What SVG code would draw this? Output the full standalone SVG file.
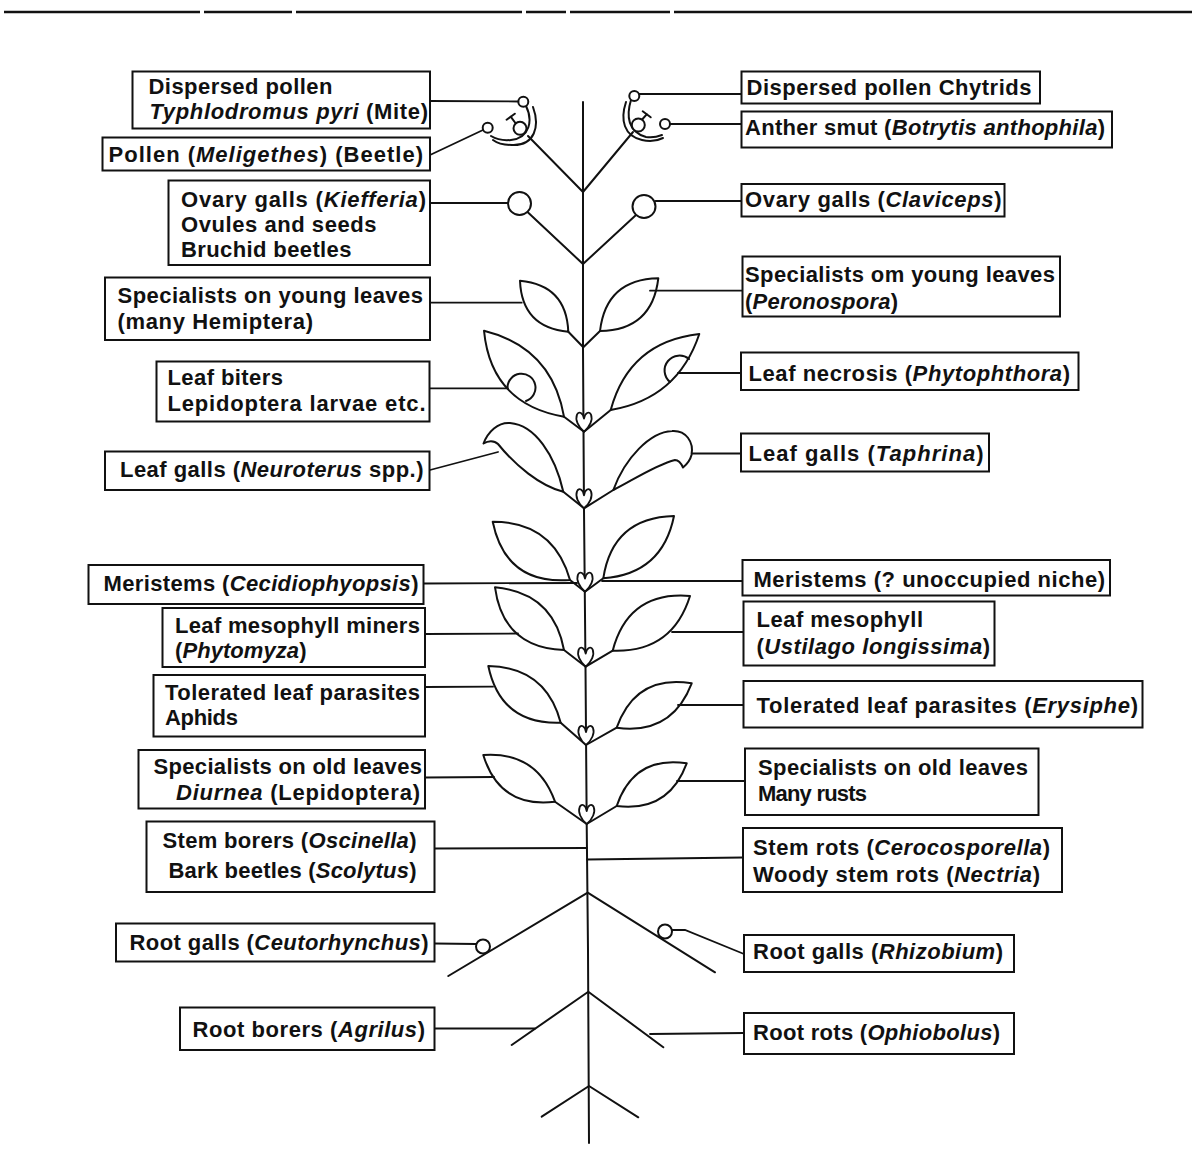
<svg xmlns="http://www.w3.org/2000/svg" width="1194" height="1169" viewBox="0 0 1194 1169">
<style>
  .box{fill:#fff;stroke:#111;stroke-width:2}
  .t{font-family:"Liberation Sans",Arial,Helvetica,sans-serif;font-size:22px;font-weight:bold;fill:#111}
  .i{font-style:italic}
  .ln{fill:none;stroke:#111;stroke-width:1.8;stroke-linecap:round}
  .pl{fill:none;stroke:#111;stroke-width:2;stroke-linejoin:round;stroke-linecap:round}
  .leaf{fill:#fff;stroke:#111;stroke-width:2;stroke-linejoin:round}
  .dot{fill:#fff;stroke:#111;stroke-width:2}
</style>
<defs>
  <!-- small paired bud sitting in each leaf axil -->
  <path id="bud" d="M0,0 C-6,-5 -9,-12 -7,-17 C-5,-21 -1,-19 0,-13 C1,-19 5,-21 7,-17 C9,-12 6,-5 0,0 Z" fill="#fff" stroke="#111" stroke-width="1.8" stroke-linejoin="round"/>
</defs>
<rect width="1194" height="1169" fill="#fff"/>

<!-- page rule -->
<g id="rule" stroke="#111" stroke-width="2.5">
  <line x1="4" y1="12" x2="200" y2="12"/>
  <line x1="204" y1="12" x2="292" y2="12"/>
  <line x1="296" y1="12" x2="522" y2="12"/>
  <line x1="526" y1="12" x2="566" y2="12"/>
  <line x1="570" y1="12" x2="670" y2="12"/>
  <line x1="674" y1="12" x2="1192" y2="12"/>
</g>

<!-- the plant -->
<g id="plant">
  <polyline id="stem" class="pl" stroke-width="1.6" points="583,102 583,350 584,510 585.5,667 586.7,824 588,950 589,1143"/>

  <g id="flowers">
    <polyline class="pl" points="528,136 583,192 633,132"/>
    <!-- left flower -->
    <path class="pl" d="M526,106 C533,120 530,138 511,140 C502,141 496,139 491,136"/>
    <path class="pl" d="M533,107 C540,126 535,146 512,145 C503,145 497,143 493,140"/>
    <line class="pl" x1="516.5" y1="124.5" x2="510.7" y2="116.7"/>
    <line class="pl" x1="506.6" y1="119.7" x2="514.8" y2="113.7"/>
    <circle class="dot" cx="520" cy="128.3" r="6.5"/>
    <circle class="dot" cx="523.3" cy="101.7" r="5"/>
    <circle class="dot" cx="487.7" cy="127.7" r="5"/>
    <!-- right flower -->
    <path class="pl" d="M631,100 C626,116 628,132 646,137 C652,138 657,137 662,135"/>
    <path class="pl" d="M626,102 C620,120 624,136 642,140 C650,142 657,141 663,138"/>
    <line class="pl" x1="641.7" y1="120" x2="646.7" y2="114.3"/>
    <line class="pl" x1="642.7" y1="111.3" x2="650.7" y2="117.3"/>
    <circle class="dot" cx="638.3" cy="125" r="6.5"/>
    <circle class="dot" cx="634.3" cy="96" r="5"/>
    <circle class="dot" cx="665" cy="124" r="5"/>
    <!-- ovaries -->
    <polyline class="pl" points="527.5,212 583,264 636,215"/>
    <circle class="dot" cx="519.5" cy="203.5" r="11.5"/>
    <circle class="dot" cx="644" cy="206.5" r="11.5"/>
  </g>

  <g id="leaves-young">
    <polyline class="pl" points="568.3,331.7 583.3,347.3 600,331"/>
    <path class="leaf" d="M568.3,331.7 Q566.4,285 520,280.7 Q521.9,327.4 568.3,331.7 Z"/>
    <path class="leaf" d="M600,331 Q606.2,279.2 658.3,278.3 Q652.2,330.1 600,331 Z"/>
  </g>

  <g id="leaves-bitten">
    <polyline class="pl" points="564,416.7 584,431.7 610.7,410"/>
    <path class="leaf" d="M564,416.7 Q552,347.5 484,330.7 Q491,404 564,416.7 Z"/>
    <path class="pl" d="M507.5,388 A14,14 0 1 1 526,401"/>
    <path class="leaf" d="M610.7,410 Q629.2,341.9 699.3,334 Q677.8,398.6 610.7,410 Z"/>
    <path class="pl" d="M670,382 A14.5,14.5 0 1 1 689,359"/>
    <use href="#bud" x="584" y="431.7"/>
  </g>

  <g id="leaves-galled">
    <polyline class="pl" points="563.3,491.7 584,508.3 613.3,490"/>
    <path class="leaf" d="M563.3,491.7 C555,455 535,425 510,423 C498,422 488,432 483.5,443.5 C488,440.5 494,440 498,444 C515,465 540,486 563.3,491.7 Z"/>
    <path class="leaf" d="M613.3,490 C625,458 650,432 672,431 C686,430 694,442 691.5,455 C690,461 686,465 683,467.5 C681,463 679,460 675,460 C655,465 630,482 613.3,490 Z"/>
    <use href="#bud" x="584" y="508.3"/>
  </g>

  <g id="leaves-4">
    <polyline class="pl" points="570,580 585,591.7 603.3,578.3"/>
    <path class="leaf" d="M570,580 Q553.5,521.6 492.7,521.7 Q505.7,584.9 570,580 Z"/>
    <path class="leaf" d="M603.3,578.3 Q612.6,517.6 674,516 Q662.3,574 603.3,578.3 Z"/>
    <use href="#bud" x="585" y="591.7"/>
  </g>

  <g id="leaves-5">
    <polyline class="pl" points="564,650 585.7,666.7 612.7,650.7"/>
    <path class="leaf" d="M564,650 Q553.3,592.5 495,587.3 Q503.1,647.7 564,650 Z"/>
    <path class="leaf" d="M612.7,650.7 Q628.4,591 690,596 Q672.2,652.8 612.7,650.7 Z"/>
    <use href="#bud" x="585.7" y="666.7"/>
  </g>

  <g id="leaves-6">
    <polyline class="pl" points="560.7,722.7 586,745 616.7,727.7"/>
    <path class="leaf" d="M560.7,722.7 Q546,667 488.3,666 Q500.7,724.8 560.7,722.7 Z"/>
    <path class="leaf" d="M616.7,727.7 Q635.7,674.1 691.7,683.3 Q671.8,735.2 616.7,727.7 Z"/>
    <use href="#bud" x="586" y="745"/>
  </g>

  <g id="leaves-7">
    <polyline class="pl" points="555,801.7 586.7,824 616.7,806"/>
    <path class="leaf" d="M555,801.7 Q537,751.2 483.3,755 Q499.6,808.4 555,801.7 Z"/>
    <path class="leaf" d="M616.7,806 Q633.8,755.3 686.7,763.3 Q668.6,812.4 616.7,806 Z"/>
    <use href="#bud" x="586.7" y="824"/>
  </g>

  <g id="roots">
    <polyline class="pl" points="448.3,976 587.7,892.7 715,972.3"/>
    <polyline class="pl" points="511.7,1045 588.3,991.7 663.3,1047.3"/>
    <polyline class="pl" points="541.7,1116.7 589,1086 638.3,1117.3"/>
    <circle class="dot" cx="483" cy="946.5" r="7"/>
    <circle class="dot" cx="665" cy="931.5" r="7"/>
  </g>
</g>

<!-- leader lines from the labels to the plant -->
<g id="connectors" class="ln">
  <line x1="430" y1="101" x2="518.3" y2="101.5"/>
  <line x1="430" y1="155" x2="483" y2="130"/>
  <line x1="430" y1="203" x2="508" y2="203"/>
  <line x1="430" y1="302.7" x2="521.7" y2="302.7"/>
  <line x1="430" y1="388.3" x2="508" y2="388.3"/>
  <line x1="430" y1="470" x2="498" y2="452"/>
  <line x1="424" y1="583.5" x2="577" y2="583"/>
  <line x1="425" y1="634" x2="518" y2="633.5"/>
  <line x1="425" y1="687" x2="493" y2="686.7"/>
  <line x1="425" y1="777.5" x2="494" y2="777"/>
  <line x1="434.5" y1="848.5" x2="587" y2="848"/>
  <line x1="434.5" y1="943.5" x2="476" y2="944"/>
  <line x1="434.5" y1="1028.5" x2="535" y2="1028.5"/>

  <line x1="639.3" y1="94" x2="741.5" y2="94"/>
  <line x1="670" y1="124" x2="741.5" y2="124"/>
  <line x1="655.5" y1="201" x2="741.5" y2="201"/>
  <line x1="650" y1="290.7" x2="742.5" y2="290.7"/>
  <line x1="678" y1="373" x2="741" y2="373"/>
  <line x1="692" y1="453.5" x2="741" y2="453.5"/>
  <line x1="602" y1="581" x2="742.5" y2="581"/>
  <line x1="672" y1="632" x2="743.5" y2="632"/>
  <line x1="678" y1="705" x2="743.5" y2="705"/>
  <line x1="677" y1="781" x2="745" y2="781"/>
  <line x1="587" y1="859.5" x2="743" y2="857.5"/>
  <polyline points="672,930 685,930 744,954"/>
  <line x1="650" y1="1034" x2="744" y2="1033"/>
</g>

<!-- labels, left side -->
<g id="n-dispersed-pollen-mite">
  <rect class="box" x="132.5" y="71.5" width="297.5" height="57"/>
  <text class="t" x="148.5" y="93.5" textLength="184" lengthAdjust="spacing">Dispersed pollen</text>
  <text class="t" x="149.5" y="119" textLength="278.5" lengthAdjust="spacing"><tspan class="i">Typhlodromus pyri</tspan> (Mite)</text>
</g>
<g id="n-pollen-beetle">
  <rect class="box" x="102.5" y="137.5" width="327.5" height="33"/>
  <text class="t" x="108.5" y="161.5" textLength="314.5" lengthAdjust="spacing">Pollen (<tspan class="i">Meligethes</tspan>) (Beetle)</text>
</g>
<g id="n-ovary-galls-left">
  <rect class="box" x="168.5" y="180.5" width="261.5" height="84.5"/>
  <text class="t" x="181" y="206.5" textLength="245" lengthAdjust="spacing">Ovary galls (<tspan class="i">Kiefferia</tspan>)</text>
  <text class="t" x="181" y="231.5" textLength="195.5" lengthAdjust="spacing">Ovules and seeds</text>
  <text class="t" x="181" y="256.5" textLength="170.5" lengthAdjust="spacing">Bruchid beetles</text>
</g>
<g id="n-young-leaves-left">
  <rect class="box" x="105" y="277.5" width="325" height="62.5"/>
  <text class="t" x="117.5" y="302.5" textLength="305.5" lengthAdjust="spacing">Specialists on young leaves</text>
  <text class="t" x="117.5" y="328.5" textLength="195.5" lengthAdjust="spacing">(many Hemiptera)</text>
</g>
<g id="n-leaf-biters">
  <rect class="box" x="156.5" y="361.5" width="273" height="60"/>
  <text class="t" x="167.5" y="385" textLength="115.5" lengthAdjust="spacing">Leaf biters</text>
  <text class="t" x="167.5" y="410.5" textLength="258" lengthAdjust="spacing">Lepidoptera larvae etc.</text>
</g>
<g id="n-leaf-galls-left">
  <rect class="box" x="105" y="451.5" width="324.5" height="38.5"/>
  <text class="t" x="120" y="477" textLength="303.5" lengthAdjust="spacing">Leaf galls (<tspan class="i">Neuroterus</tspan> spp.)</text>
</g>
<g id="n-meristems-left">
  <rect class="box" x="88.5" y="565" width="335" height="39"/>
  <text class="t" x="103.5" y="591" textLength="315" lengthAdjust="spacing">Meristems (<tspan class="i">Cecidiophyopsis</tspan>)</text>
</g>
<g id="n-mesophyll-left">
  <rect class="box" x="162.5" y="608" width="262.5" height="59"/>
  <text class="t" x="175" y="632.5" textLength="245" lengthAdjust="spacing">Leaf mesophyll miners</text>
  <text class="t" x="175" y="658" textLength="131.5" lengthAdjust="spacing">(<tspan class="i">Phytomyza</tspan>)</text>
</g>
<g id="n-tolerated-left">
  <rect class="box" x="153.5" y="675" width="271.5" height="61.5"/>
  <text class="t" x="165" y="700" textLength="255" lengthAdjust="spacing">Tolerated leaf parasites</text>
  <text class="t" x="165" y="725" textLength="73" lengthAdjust="spacing">Aphids</text>
</g>
<g id="n-old-leaves-left">
  <rect class="box" x="138.5" y="750" width="286.5" height="58.5"/>
  <text class="t" x="153.5" y="773.5" textLength="268.5" lengthAdjust="spacing">Specialists on old leaves</text>
  <text class="t" x="176" y="800" textLength="244" lengthAdjust="spacing"><tspan class="i">Diurnea</tspan> (Lepidoptera)</text>
</g>
<g id="n-stem-borers">
  <rect class="box" x="146.5" y="821.5" width="288" height="70.5"/>
  <text class="t" x="162.5" y="847.5" textLength="254" lengthAdjust="spacing">Stem borers (<tspan class="i">Oscinella</tspan>)</text>
  <text class="t" x="168.5" y="877.5" textLength="248" lengthAdjust="spacing">Bark beetles (<tspan class="i">Scolytus</tspan>)</text>
</g>
<g id="n-root-galls-left">
  <rect class="box" x="116" y="923.5" width="318.5" height="38"/>
  <text class="t" x="129.5" y="950" textLength="299" lengthAdjust="spacing">Root galls (<tspan class="i">Ceutorhynchus</tspan>)</text>
</g>
<g id="n-root-borers">
  <rect class="box" x="180" y="1007.5" width="254.5" height="42.5"/>
  <text class="t" x="192.5" y="1036.5" textLength="232.5" lengthAdjust="spacing">Root borers (<tspan class="i">Agrilus</tspan>)</text>
</g>

<!-- labels, right side -->
<g id="n-chytrids">
  <rect class="box" x="741.5" y="71.5" width="298.5" height="32"/>
  <text class="t" x="746.5" y="94.5" textLength="285" lengthAdjust="spacing">Dispersed pollen Chytrids</text>
</g>
<g id="n-anther-smut">
  <rect class="box" x="741.5" y="111.5" width="370.5" height="36"/>
  <text class="t" x="745" y="135" textLength="360" lengthAdjust="spacing">Anther smut (<tspan class="i">Botrytis anthophila</tspan>)</text>
</g>
<g id="n-ovary-galls-right">
  <rect class="box" x="741.5" y="184" width="263" height="32.5"/>
  <text class="t" x="745" y="206.5" textLength="256.5" lengthAdjust="spacing">Ovary galls (<tspan class="i">Claviceps</tspan>)</text>
</g>
<g id="n-young-leaves-right">
  <rect class="box" x="742.5" y="256.5" width="317.5" height="60"/>
  <text class="t" x="745" y="281.5" textLength="310" lengthAdjust="spacing">Specialists om young leaves</text>
  <text class="t" x="745" y="308.5" textLength="153" lengthAdjust="spacing">(<tspan class="i">Peronospora</tspan>)</text>
</g>
<g id="n-leaf-necrosis">
  <rect class="box" x="741" y="352.5" width="337.5" height="37.5"/>
  <text class="t" x="748.5" y="380.5" textLength="321.5" lengthAdjust="spacing">Leaf necrosis (<tspan class="i">Phytophthora</tspan>)</text>
</g>
<g id="n-leaf-galls-right">
  <rect class="box" x="741" y="433.5" width="248" height="38"/>
  <text class="t" x="748.5" y="460.5" textLength="235" lengthAdjust="spacing">Leaf galls (<tspan class="i">Taphrina</tspan>)</text>
</g>
<g id="n-meristems-right">
  <rect class="box" x="742.5" y="560" width="367.5" height="35.5"/>
  <text class="t" x="753.5" y="586.5" textLength="351.5" lengthAdjust="spacing">Meristems (? unoccupied niche)</text>
</g>
<g id="n-mesophyll-right">
  <rect class="box" x="743.5" y="601.5" width="251" height="64"/>
  <text class="t" x="756.5" y="627" textLength="166.5" lengthAdjust="spacing">Leaf mesophyll</text>
  <text class="t" x="756.5" y="653.5" textLength="233.5" lengthAdjust="spacing">(<tspan class="i">Ustilago longissima</tspan>)</text>
</g>
<g id="n-tolerated-right">
  <rect class="box" x="743.5" y="681" width="399" height="46.5"/>
  <text class="t" x="756.5" y="713" textLength="381.5" lengthAdjust="spacing">Tolerated leaf parasites (<tspan class="i">Erysiphe</tspan>)</text>
</g>
<g id="n-old-leaves-right">
  <rect class="box" x="745" y="748.5" width="293.5" height="66.5"/>
  <text class="t" x="758" y="775" textLength="270" lengthAdjust="spacing">Specialists on old leaves</text>
  <text class="t" x="758" y="801" textLength="109" lengthAdjust="spacing">Many rusts</text>
</g>
<g id="n-stem-rots">
  <rect class="box" x="743" y="828" width="319" height="64"/>
  <text class="t" x="753" y="855" textLength="297" lengthAdjust="spacing">Stem rots (<tspan class="i">Cerocosporella</tspan>)</text>
  <text class="t" x="753" y="882" textLength="287" lengthAdjust="spacing">Woody stem rots (<tspan class="i">Nectria</tspan>)</text>
</g>
<g id="n-root-galls-right">
  <rect class="box" x="744" y="935" width="270" height="37"/>
  <text class="t" x="753" y="959" textLength="250" lengthAdjust="spacing">Root galls (<tspan class="i">Rhizobium</tspan>)</text>
</g>
<g id="n-root-rots">
  <rect class="box" x="744" y="1013" width="270" height="41"/>
  <text class="t" x="753" y="1040" textLength="247" lengthAdjust="spacing">Root rots (<tspan class="i">Ophiobolus</tspan>)</text>
</g>
</svg>
